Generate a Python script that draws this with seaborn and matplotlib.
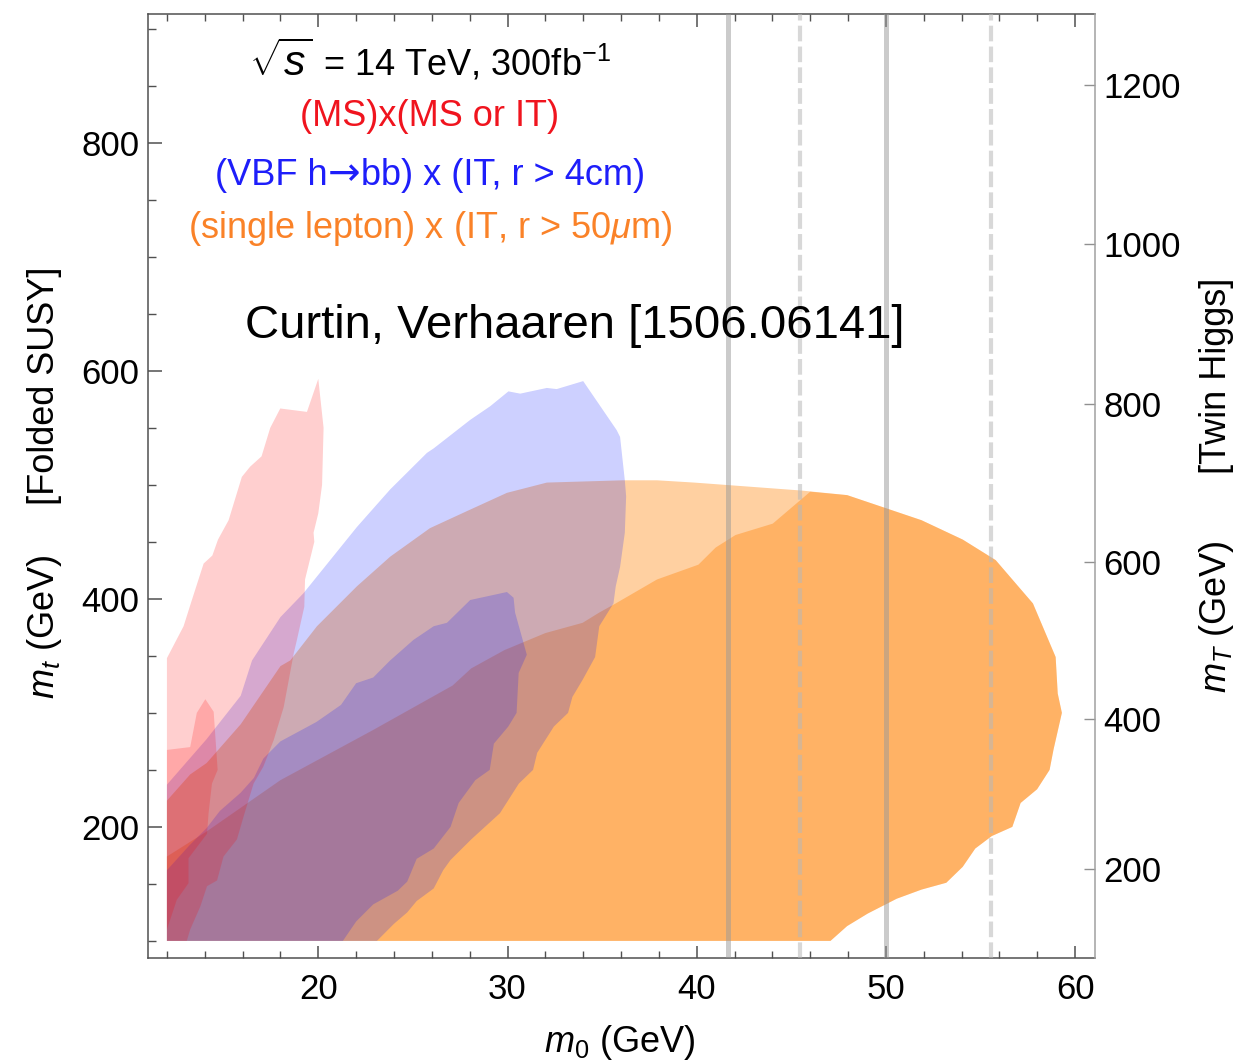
import matplotlib
matplotlib.use("Agg")
import matplotlib.pyplot as plt
from matplotlib.ticker import MultipleLocator, FixedLocator
from matplotlib.offsetbox import TextArea, HPacker, AnnotationBbox
import seaborn as sns

# outlines of the reach regions, m0 (GeV) vs mt (GeV)
orange_outer_x = [12, 12, 13.23, 14.1, 15.9, 18.0, 18.52, 19.93, 22.04, 23.8, 25.9, 27.86, 29.97,
                  32.08, 36.1, 37.9, 39.87, 45.55, 47.95, 51.88, 54.06, 55.8, 57.77, 58.97, 59.08,
                  59.3, 58.86, 58.65, 57.99, 57.12, 56.68, 55.6, 54.72, 54.06, 53.19, 51.88, 50.57,
                  49.04, 47.95, 47.07]
orange_outer_y = [100, 223, 246, 256, 290, 341, 346, 376, 411, 437, 462, 477, 493,
                  502, 504, 504, 502, 495, 491, 469, 452, 434, 396, 349, 317,
                  300, 268, 250, 233, 221, 200, 192, 181, 165, 151, 145, 137,
                  124, 113, 100]

orange_inner_x = [12, 12, 14.1, 18.0, 22.9, 27.1, 28.08, 29.83, 32.0, 33.97, 34.85, 35.72, 37.9,
                  40.09, 41.0, 42.05, 44.02, 46.0, 47.95, 51.88, 54.06, 55.8, 57.77, 58.97, 59.08,
                  59.3, 58.86, 58.65, 57.99, 57.12, 56.68, 55.6, 54.72, 54.06, 53.19, 51.88, 50.57,
                  49.04, 47.95, 47.07]
orange_inner_y = [100, 174, 196, 241, 285, 324, 339, 355, 370, 379, 388, 396, 417,
                  430, 445, 456, 466, 494, 491, 469, 452, 434, 396, 349, 317,
                  300, 268, 250, 233, 221, 200, 192, 181, 165, 151, 145, 137,
                  124, 113, 100]

blue_outer_x = [12, 12, 14.1, 15.9, 16.5, 18.0, 19.22, 20.63, 22.04, 23.8, 25.74, 26.1, 28.03,
                29.09, 30.05, 30.67, 32.08, 32.6, 34.0, 35.77, 35.95, 36.2, 36.27, 36.2, 35.95,
                35.72, 35.6, 34.85, 34.63, 33.97, 33.43, 33.2, 32.45, 31.57, 31.35, 30.6, 29.6,
                28.08, 26.99, 26.6, 26.1, 25.2, 24.7, 24.0, 23.1]
blue_outer_y = [100, 237, 277, 315, 346, 384, 405, 434, 463, 496, 528, 532, 557,
                569, 582, 580, 585, 584, 591, 548, 542, 504, 490, 458, 428,
                411, 396, 376, 349, 329, 314, 300, 288, 265, 250, 238, 212,
                189, 171, 162, 146, 135, 125, 115, 100]

blue_inner_x = [12, 12, 13.2, 14.1, 14.8, 15.9, 16.6, 17.1, 18.0, 19.9, 21.2, 22.0, 22.9, 23.8,
                25.03, 26.1, 26.8, 28.03, 29.97, 30.32, 30.4, 31.02, 30.59, 30.48, 30.04, 29.28,
                29.06, 28.3, 27.42, 26.99, 26.1, 25.2, 24.7, 24.2, 22.9, 22.0, 21.3]
blue_inner_y = [100, 162, 184, 199, 214, 230, 243, 260, 275, 292, 307, 326, 331, 346,
                364, 376, 379, 399, 406, 401, 388, 351, 335, 300, 288, 273,
                250, 241, 221, 200, 181, 172, 152, 144, 132, 117, 100]

red_outer_x = [12, 12, 12.88, 13.3, 13.94, 14.4, 14.7, 15.26, 15.96, 16.4, 17.0, 17.46, 17.99,
               19.4, 20.0, 20.28, 20.2, 20.0, 19.75, 19.79, 19.3, 19.26, 18.87, 18.7, 18.17,
               17.64, 17.1, 16.58, 16.05, 15.7, 14.99, 14.65, 14.12, 13.76, 13.23, 13.05]
red_outer_y = [100, 348, 376, 398, 431, 438, 452, 469, 507, 516, 525, 550, 567,
               564, 593, 550, 500, 475, 458, 450, 417, 393, 364, 352, 305,
               276, 253, 238, 209, 189, 174, 153, 148, 130, 110, 100]

red_inner_x = [12, 12, 13.23, 13.58, 14.03, 14.47, 14.68, 14.38, 14.2, 14.12, 13.14, 13.14, 12.52, 12.0]
red_inner_y = [100, 267.5, 270, 300, 312, 301, 250, 238, 212, 194, 172.5, 150.6, 136, 110]

# benchmark m0 values drawn as vertical guides
solid_m0 = [41.67, 50.0]
dashed_m0 = [45.45, 55.55]

# twin Higgs mT scale placed against the folded SUSY mt axis
twin_tick_pos = [163, 295, 432.5, 571, 711, 851]
twin_tick_labels = ['200', '400', '600', '800', '1000', '1200']

W, H = 1236, 1062

sns.set_theme(style='ticks')
plt.rcParams['font.family'] = ['Liberation Sans', 'DejaVu Sans']
plt.rcParams['mathtext.fontset'] = 'custom'
plt.rcParams['mathtext.rm'] = 'Liberation Sans'
plt.rcParams['mathtext.it'] = 'Liberation Sans:italic'
plt.rcParams['text.color'] = 'black'
plt.rcParams['xtick.color'] = '#505050'
plt.rcParams['ytick.color'] = '#505050'
plt.rcParams['xtick.labelcolor'] = 'black'
plt.rcParams['ytick.labelcolor'] = 'black'

fig = plt.figure(figsize=(W / 100, H / 100), dpi=100)
ax = fig.add_axes([148 / W, 104 / H, 947 / W, 944 / H])

orange = (1.0, 0.5, 0.0)
blue = (0.02, 0.08, 1.0)
red = (1.0, 0.0, 0.0)

ax.fill(orange_outer_x, orange_outer_y, color=orange, alpha=0.37, lw=0, zorder=1)
ax.fill(orange_inner_x, orange_inner_y, color=orange, alpha=0.37, lw=0, zorder=1)
ax.fill(blue_outer_x, blue_outer_y, color=blue, alpha=0.2, lw=0, zorder=2)
ax.fill(blue_inner_x, blue_inner_y, color=blue, alpha=0.2, lw=0, zorder=2)
ax.fill(red_outer_x, red_outer_y, color=red, alpha=0.19, lw=0, zorder=3)
ax.fill(red_inner_x, red_inner_y, color=red, alpha=0.19, lw=0, zorder=3)

for m in solid_m0:
    ax.axvline(m, color='#999999', alpha=0.5, lw=3.6, zorder=4)
for m in dashed_m0:
    ax.axvline(m, color='#b8b8b8', alpha=0.55, lw=3.0, dashes=(3.75, 1.25), zorder=4)

ax.set_xlim(11.0, 61.05)
ax.set_ylim(85, 913)
ax.xaxis.set_major_locator(MultipleLocator(10))
ax.xaxis.set_minor_locator(MultipleLocator(2))
ax.yaxis.set_major_locator(MultipleLocator(200))
ax.yaxis.set_minor_locator(MultipleLocator(50))
ax.tick_params(which='both', direction='in', top=True, right=False, labelsize=25)
ax.tick_params(axis='x', which='major', length=9, width=1.1, pad=11)
ax.tick_params(axis='x', which='minor', length=5, width=1.0)
ax.tick_params(axis='y', which='major', length=10, width=1.1, pad=6)
ax.tick_params(axis='y', which='minor', length=5.5, width=1.0)
for side in ['left', 'bottom', 'top']:
    ax.spines[side].set_color('#505050')
    ax.spines[side].set_linewidth(1.1)
ax.spines['right'].set_visible(False)

ax2 = ax.twinx()
ax2.set_ylim(ax.get_ylim())
ax2.yaxis.set_major_locator(FixedLocator(twin_tick_pos))
ax2.set_yticklabels(twin_tick_labels)
ax2.yaxis.set_minor_locator(FixedLocator([]))
ax2.tick_params(axis='y', which='major', direction='in', length=8, width=1.0,
                color='#909090', labelsize=25, pad=6)
for side in ['left', 'bottom', 'top']:
    ax2.spines[side].set_visible(False)
ax2.spines['right'].set_color('#a0a0a0')
ax2.spines['right'].set_linewidth(1.1)
ax2.grid(False)


def packed_line(parts, y_px, color):
    """Put a row of differently styled text pieces centred at the legend column."""
    areas = [TextArea(txt, textprops=dict(color=color, fontsize=size, family=fam))
             for txt, size, fam in parts]
    box = HPacker(children=areas, align='baseline', pad=0, sep=0)
    ab = AnnotationBbox(box, ((430 - 148) / 947, (958 - y_px) / 944), xycoords='axes fraction',
                        frameon=False, box_alignment=(0.5, 0.5), pad=0, zorder=6)
    ax.add_artist(ab)


sans = ['Liberation Sans', 'DejaVu Sans']
packed_line([(r'$\sqrt{s}$', 31, sans), (' = 14 TeV, 300fb$^{-1}$', 26, sans)], 63, 'black')
packed_line([('(MS)x(MS or IT)', 26, sans)], 117, '#f0141e')
packed_line([('(VBF h', 26, sans), ('\u2192', 28, ['DejaVu Sans']),
             ('bb) x (IT, r > 4cm)', 26, sans)], 174, '#1e1efa')
packed_line([(r'(single lepton) x (IT, r > 50$\mu$m)', 26, sans)], 229, '#fa8228')

ax.text((575 - 148) / 947, (958 - 326) / 944, 'Curtin, Verhaaren [1506.06141]',
        transform=ax.transAxes, ha='center', va='center', fontsize=34, color='black', zorder=6)

# axis titles
fig.text(620 / W, 1 - 1042 / H, r'$m_0$ (GeV)', ha='center', va='center', fontsize=26)
fig.text(45 / W, 1 - 386 / H, '[Folded SUSY]', ha='center', va='center', rotation=90, fontsize=26)
fig.text(45 / W, 1 - 627 / H, r'$m_t$ (GeV)', ha='center', va='center', rotation=90, fontsize=26)
fig.text(1216 / W, 1 - 376 / H, '[Twin Higgs]', ha='center', va='center', rotation=90, fontsize=26)
fig.text(1216 / W, 1 - 617 / H, r'$m_T$ (GeV)', ha='center', va='center', rotation=90, fontsize=26)

fig.savefig('out.png', dpi=100)
